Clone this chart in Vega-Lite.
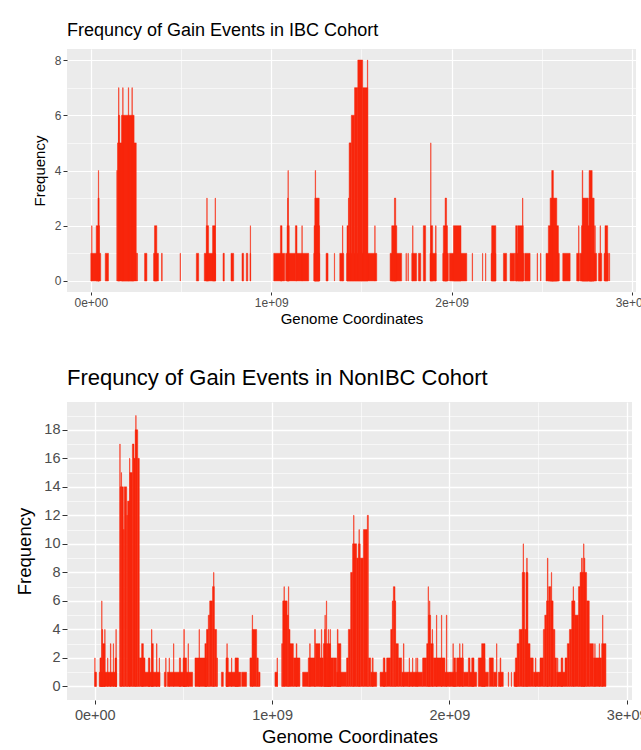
{
  "$schema": "https://vega.github.io/schema/vega-lite/v6.json",
  "background": "white",
  "padding": {"left": 15, "top": 22, "right": 0, "bottom": 0},
  "config": {
    "font": "Liberation Sans",
    "view": {"fill": "#EBEBEB", "stroke": null},
    "axis": {"domain": false, "tickColor": "#333333", "labelColor": "#4D4D4D", "titleColor": "#000000", "titleFontWeight": "normal", "gridColor": "#FFFFFF", "labelFlush": false, "labelOverlap": false, "labelBound": false},
    "title": {"anchor": "start", "fontWeight": "normal", "color": "#000000", "frame": "group"},
    "concat": {"spacing": 41}
  },
  "datasets": {
    "ibc": [
      {"s":0,"e":55,"f":1},{"s":5,"e":6.5,"f":2},{"s":30,"e":48,"f":2},{"s":40,"e":46,"f":3},{"s":42,"e":43.5,"f":4},
      {"s":80,"e":98,"f":1},
      {"s":144,"e":148,"f":4},{"s":148,"e":252,"f":5},{"s":153,"e":160,"f":6},{"s":170,"e":240,"f":6},{"s":154,"e":156,"f":7},{"s":177,"e":179,"f":7},{"s":208,"e":210,"f":7},{"s":228,"e":230,"f":7},{"s":252,"e":259,"f":1},
      {"s":298,"e":311,"f":1},
      {"s":348,"e":375,"f":1},{"s":353,"e":366,"f":2},
      {"s":392,"e":396,"f":1},
      {"s":495,"e":497,"f":1},
      {"s":585,"e":598,"f":1},
      {"s":629,"e":692,"f":1},{"s":640,"e":653,"f":2},{"s":675,"e":690,"f":2},{"s":643,"e":645,"f":3},{"s":689,"e":691,"f":3},
      {"s":733,"e":740,"f":1},
      {"s":777,"e":792,"f":1},
      {"s":838,"e":847,"f":1},
      {"s":862,"e":870,"f":1},{"s":883,"e":886,"f":1},{"s":884,"e":885.5,"f":2},
      {"s":1014,"e":1075,"f":1},{"s":1080,"e":1135,"f":1},{"s":1140,"e":1208,"f":1},{"s":1051,"e":1060,"f":2},{"s":1088,"e":1100,"f":2},{"s":1091,"e":1094,"f":3},{"s":1093,"e":1094.5,"f":4},{"s":1134,"e":1143,"f":2},{"s":1170,"e":1172,"f":2},
      {"s":1236,"e":1269,"f":1},{"s":1238,"e":1268,"f":2},{"s":1242,"e":1266,"f":3},{"s":1244,"e":1246,"f":4},
      {"s":1304,"e":1315,"f":1},
      {"s":1350,"e":1351.5,"f":1},
      {"s":1380,"e":1402,"f":1},{"s":1395,"e":1397,"f":2},
      {"s":1418,"e":1585,"f":1},{"s":1420,"e":1428,"f":2},{"s":1428,"e":1432,"f":3},{"s":1432,"e":1444,"f":5},{"s":1444,"e":1462,"f":6},{"s":1462,"e":1480,"f":7},{"s":1480,"e":1507,"f":8},{"s":1507,"e":1535,"f":7},{"s":1533,"e":1535,"f":8},{"s":1574,"e":1576,"f":2},
      {"s":1659,"e":1723,"f":1},{"s":1668,"e":1696,"f":2},{"s":1683,"e":1690,"f":3},
      {"s":1747,"e":1749,"f":1},{"s":1758,"e":1760,"f":1},
      {"s":1779,"e":1806,"f":1},{"s":1784,"e":1786,"f":2},
      {"s":1816,"e":1829,"f":1},
      {"s":1843,"e":1856,"f":2},
      {"s":1880,"e":1914,"f":1},{"s":1884,"e":1895,"f":2},{"s":1884,"e":1885.5,"f":5},{"s":1911,"e":1914,"f":2},
      {"s":1951,"e":1982,"f":1},{"s":1954,"e":1977,"f":2},{"s":1964,"e":1972,"f":3},
      {"s":1988,"e":2084,"f":1},{"s":2010,"e":2052,"f":2},
      {"s":2114,"e":2116,"f":1},
      {"s":2171,"e":2172.5,"f":1},{"s":2188,"e":2189.5,"f":1},
      {"s":2219,"e":2245,"f":1},{"s":2222,"e":2245,"f":2},
      {"s":2287,"e":2305,"f":1},
      {"s":2324,"e":2350,"f":1},{"s":2353,"e":2400,"f":1},{"s":2405,"e":2435,"f":1},{"s":2355,"e":2365,"f":2},{"s":2368,"e":2397,"f":2},{"s":2393,"e":2395,"f":3},
      {"s":2474,"e":2476,"f":1},{"s":2493,"e":2495,"f":1},
      {"s":2523,"e":2597,"f":1},{"s":2536,"e":2592,"f":2},{"s":2546,"e":2583,"f":3},{"s":2555,"e":2564,"f":4},
      {"s":2616,"e":2657,"f":1},
      {"s":2693,"e":2708,"f":1},{"s":2704,"e":2706,"f":2},
      {"s":2712,"e":2804,"f":1},{"s":2720,"e":2790,"f":2},{"s":2727,"e":2758,"f":3},{"s":2724,"e":2727,"f":4},{"s":2762,"e":2779,"f":4},{"s":2765,"e":2790,"f":3},{"s":2794,"e":2796,"f":2},
      {"s":2814,"e":2832,"f":1},{"s":2823,"e":2825,"f":2},
      {"s":2845,"e":2869,"f":1},{"s":2850,"e":2865,"f":2},
      {"s":2874,"e":2876,"f":1}
    ],
    "nonibc": [
      {"s":0,"e":10,"f":1},{"s":0,"e":1.5,"f":2},
      {"s":25,"e":123,"f":1},{"s":29,"e":39,"f":2},{"s":39,"e":40.5,"f":6},{"s":40,"e":44,"f":4},{"s":44,"e":57,"f":3},{"s":56,"e":58,"f":4},{"s":72,"e":74,"f":2},{"s":88,"e":91,"f":3},{"s":104,"e":106,"f":3},{"s":114,"e":123,"f":2},{"s":119,"e":121,"f":4},
      {"s":141,"e":143,"f":17},{"s":143,"e":149,"f":14},{"s":149,"e":151,"f":15},{"s":151,"e":161,"f":14},{"s":161,"e":166,"f":11},{"s":166,"e":180,"f":14},{"s":180,"e":185,"f":12},{"s":185,"e":198,"f":13},{"s":196,"e":198,"f":16},{"s":198,"e":212,"f":15},{"s":212,"e":221,"f":17},{"s":221,"e":228,"f":16},{"s":228,"e":242,"f":18},{"s":231,"e":233,"f":19},{"s":242,"e":251,"f":16},
      {"s":251,"e":283,"f":2},{"s":264,"e":274,"f":3},
      {"s":283,"e":368,"f":1},{"s":302,"e":311,"f":2},{"s":321,"e":330,"f":3},{"s":320,"e":322,"f":4},{"s":348,"e":351,"f":3},{"s":363,"e":365,"f":2},
      {"s":392,"e":401,"f":1},{"s":400,"e":402,"f":2},{"s":409,"e":552,"f":1},{"s":419,"e":421,"f":2},{"s":444,"e":446,"f":3},{"s":477,"e":484,"f":2},{"s":498,"e":518,"f":2},{"s":502,"e":505,"f":4},{"s":526,"e":528,"f":3},
      {"s":565,"e":630,"f":2},{"s":588,"e":590,"f":4},{"s":621,"e":630,"f":3},{"s":630,"e":640,"f":4},{"s":640,"e":648,"f":5},{"s":648,"e":664,"f":6},{"s":664,"e":674,"f":7},{"s":670,"e":672,"f":8},{"s":674,"e":687,"f":4},{"s":687,"e":692,"f":2},
      {"s":714,"e":725,"f":1},
      {"s":740,"e":819,"f":1},{"s":740,"e":753,"f":2},{"s":745,"e":747,"f":3},{"s":771,"e":773,"f":2},{"s":791,"e":810,"f":2},{"s":819,"e":822,"f":1},
      {"s":828,"e":856,"f":1},
      {"s":875,"e":888,"f":2},{"s":888,"e":913,"f":4},{"s":888,"e":890,"f":5},{"s":913,"e":922,"f":2},{"s":922,"e":932,"f":1},
      {"s":1016,"e":1030,"f":1},{"s":1028,"e":1030,"f":2},
      {"s":1054,"e":1060,"f":3},{"s":1060,"e":1085,"f":6},{"s":1067,"e":1069,"f":7},{"s":1085,"e":1092,"f":5},{"s":1092,"e":1094,"f":7},{"s":1094,"e":1101,"f":4},{"s":1101,"e":1120,"f":3},{"s":1120,"e":1157,"f":2},{"s":1136,"e":1140,"f":3},
      {"s":1172,"e":1204,"f":1},{"s":1204,"e":1242,"f":2},{"s":1212,"e":1215,"f":3},{"s":1240,"e":1244,"f":4},{"s":1244,"e":1270,"f":3},{"s":1270,"e":1289,"f":2},{"s":1278,"e":1280,"f":4},{"s":1289,"e":1308,"f":3},{"s":1296,"e":1300,"f":4},{"s":1298,"e":1300,"f":5},{"s":1306,"e":1308,"f":6},{"s":1308,"e":1345,"f":2},{"s":1310,"e":1330,"f":3},{"s":1317,"e":1319,"f":4},{"s":1327,"e":1329,"f":4},{"s":1345,"e":1364,"f":2},{"s":1364,"e":1420,"f":1},{"s":1368,"e":1372,"f":4},{"s":1372,"e":1388,"f":3},
      {"s":1420,"e":1430,"f":2},{"s":1430,"e":1443,"f":4},{"s":1443,"e":1454,"f":8},{"s":1454,"e":1477,"f":10},{"s":1460,"e":1462,"f":12},{"s":1477,"e":1487,"f":9},{"s":1487,"e":1497,"f":10},{"s":1490,"e":1492,"f":11},{"s":1497,"e":1515,"f":9},{"s":1515,"e":1537,"f":11},{"s":1537,"e":1543,"f":12},{"s":1543,"e":1556,"f":2},{"s":1556,"e":1590,"f":1},{"s":1565,"e":1570,"f":2},
      {"s":1609,"e":1646,"f":1},{"s":1627,"e":1637,"f":2},{"s":1646,"e":1669,"f":2},{"s":1669,"e":1678,"f":4},{"s":1678,"e":1684,"f":6},{"s":1684,"e":1693,"f":7},{"s":1693,"e":1697,"f":6},{"s":1697,"e":1712,"f":3},{"s":1712,"e":1731,"f":2},{"s":1731,"e":1768,"f":1},{"s":1741,"e":1744,"f":3},
      {"s":1768,"e":1849,"f":1},{"s":1773,"e":1775,"f":2},{"s":1792,"e":1794,"f":2},{"s":1811,"e":1813,"f":2},{"s":1820,"e":1822,"f":2},
      {"s":1849,"e":1872,"f":2},{"s":1872,"e":1881,"f":3},{"s":1880,"e":1882,"f":7},{"s":1882,"e":1894,"f":5},{"s":1888,"e":1890,"f":6},{"s":1894,"e":1909,"f":3},{"s":1903,"e":1905,"f":4},{"s":1909,"e":1929,"f":2},{"s":1927,"e":1929,"f":5},{"s":1929,"e":1957,"f":2},{"s":1955,"e":1957,"f":5},{"s":1957,"e":1975,"f":2},{"s":1975,"e":2003,"f":1},{"s":1983,"e":1986,"f":5},
      {"s":2003,"e":2041,"f":1},{"s":2020,"e":2022,"f":3},{"s":2025,"e":2035,"f":2},{"s":2041,"e":2079,"f":2},{"s":2058,"e":2060,"f":3},{"s":2074,"e":2076,"f":3},{"s":2079,"e":2107,"f":1},{"s":2107,"e":2116,"f":2},{"s":2116,"e":2154,"f":1},{"s":2126,"e":2139,"f":2},
      {"s":2163,"e":2201,"f":2},{"s":2182,"e":2201,"f":3},
      {"s":2201,"e":2220,"f":1},{"s":2225,"e":2248,"f":2},{"s":2248,"e":2267,"f":1},{"s":2266,"e":2268,"f":3},{"s":2276,"e":2304,"f":1},{"s":2286,"e":2290,"f":2},
      {"s":2332,"e":2334,"f":1},{"s":2349,"e":2351,"f":1},
      {"s":2364,"e":2382,"f":1},{"s":2372,"e":2382,"f":2},{"s":2382,"e":2394,"f":3},{"s":2394,"e":2411,"f":4},{"s":2411,"e":2425,"f":8},{"s":2416,"e":2418,"f":10},{"s":2425,"e":2432,"f":4},{"s":2432,"e":2443,"f":8},{"s":2436,"e":2439,"f":9},{"s":2443,"e":2455,"f":3},{"s":2455,"e":2473,"f":2},{"s":2473,"e":2502,"f":1},{"s":2485,"e":2488,"f":2},
      {"s":2502,"e":2511,"f":1},{"s":2511,"e":2530,"f":2},{"s":2530,"e":2538,"f":4},{"s":2538,"e":2548,"f":5},{"s":2548,"e":2560,"f":6},{"s":2553,"e":2556,"f":9},{"s":2560,"e":2572,"f":7},{"s":2572,"e":2585,"f":6},{"s":2575,"e":2577,"f":8},{"s":2585,"e":2595,"f":4},{"s":2595,"e":2605,"f":2},{"s":2605,"e":2624,"f":1},{"s":2610,"e":2612,"f":2},
      {"s":2624,"e":2652,"f":1},{"s":2630,"e":2640,"f":2},
      {"s":2652,"e":2665,"f":2},{"s":2665,"e":2677,"f":3},{"s":2677,"e":2690,"f":4},{"s":2690,"e":2708,"f":6},{"s":2698,"e":2700,"f":7},{"s":2708,"e":2728,"f":5},{"s":2728,"e":2737,"f":7},{"s":2737,"e":2755,"f":8},{"s":2745,"e":2750,"f":9},{"s":2755,"e":2774,"f":8},{"s":2757,"e":2759,"f":10},{"s":2760,"e":2764,"f":9},{"s":2774,"e":2789,"f":6},{"s":2789,"e":2812,"f":3},{"s":2812,"e":2859,"f":2},{"s":2820,"e":2822,"f":3},{"s":2845,"e":2847,"f":3},{"s":2859,"e":2883,"f":3},{"s":2864,"e":2866,"f":5}
    ]
  },
  "vconcat": [
    {
      "title": {"text": "Frequncy of Gain Events in IBC Cohort", "fontSize": 18, "offset": 9},
      "width": 569,
      "height": 243,
      "data": {"name": "ibc"},
      "mark": {"type": "rect", "color": "#F8260C", "stroke": "#F8260C", "strokeWidth": 0.5},
      "encoding": {
        "x": {
          "field": "s", "type": "quantitative",
          "scale": {"domain": [-131.9, 3022], "nice": false, "zero": false},
          "axis": {
            "title": "Genome Coordinates", "titleFontSize": 15, "titlePadding": 3,
            "values": [0, 500, 1000, 1500, 2000, 2500, 3000],
            "labelExpr": "datum.value % 1000 != 0 ? '' : (datum.value == 0 ? '0e+00' : format(datum.value / 1000, 'd') + 'e+09')",
            "labelFontSize": 12, "labelPadding": 2, "tickSize": 3,
            "gridWidth": {"condition": {"test": "datum.value % 1000 != 0", "value": 0.6}, "value": 1.2},
            "tickOpacity": {"condition": {"test": "datum.value % 1000 != 0", "value": 0}, "value": 1}
          }
        },
        "x2": {"field": "e"},
        "y": {
          "field": "f", "type": "quantitative",
          "scale": {"domain": [-0.4, 8.4], "nice": false, "zero": false},
          "axis": {
            "title": "Frequency", "titleFontSize": 15, "titlePadding": 7,
            "values": [0, 1, 2, 3, 4, 5, 6, 7, 8],
            "labelExpr": "datum.value % 2 != 0 ? '' : datum.label",
            "labelFontSize": 12, "labelPadding": 2, "tickSize": 4,
            "gridWidth": {"condition": {"test": "datum.value % 2 != 0", "value": 0.6}, "value": 1.2},
            "tickOpacity": {"condition": {"test": "datum.value % 2 != 0", "value": 0}, "value": 1}
          }
        },
        "y2": {"datum": 0}
      }
    },
    {
      "title": {"text": "Frequncy of Gain Events in NonIBC Cohort", "fontSize": 22, "offset": 12},
      "width": 565,
      "height": 298,
      "data": {"name": "nonibc"},
      "mark": {"type": "rect", "color": "#F8260C", "stroke": "#F8260C", "strokeWidth": 0.5},
      "encoding": {
        "x": {
          "field": "s", "type": "quantitative",
          "scale": {"domain": [-156.8, 3030], "nice": false, "zero": false},
          "axis": {
            "title": "Genome Coordinates", "titleFontSize": 18.5, "titlePadding": 6,
            "values": [0, 500, 1000, 1500, 2000, 2500, 3000],
            "labelExpr": "datum.value % 1000 != 0 ? '' : (datum.value == 0 ? '0e+00' : format(datum.value / 1000, 'd') + 'e+09')",
            "labelFontSize": 14.5, "labelPadding": 4, "tickSize": 4,
            "gridWidth": {"condition": {"test": "datum.value % 1000 != 0", "value": 0.6}, "value": 1.3},
            "tickOpacity": {"condition": {"test": "datum.value % 1000 != 0", "value": 0}, "value": 1}
          }
        },
        "x2": {"field": "e"},
        "y": {
          "field": "f", "type": "quantitative",
          "scale": {"domain": [-0.95, 19.95], "nice": false, "zero": false},
          "axis": {
            "title": "Frequency", "titleFontSize": 18.5, "titlePadding": 9,
            "values": [0, 1, 2, 3, 4, 5, 6, 7, 8, 9, 10, 11, 12, 13, 14, 15, 16, 17, 18, 19],
            "labelExpr": "datum.value % 2 != 0 ? '' : datum.label",
            "labelFontSize": 14.5, "labelPadding": 2, "tickSize": 5,
            "gridWidth": {"condition": {"test": "datum.value % 2 != 0", "value": 0.6}, "value": 1.3},
            "tickOpacity": {"condition": {"test": "datum.value % 2 != 0", "value": 0}, "value": 1}
          }
        },
        "y2": {"datum": 0}
      }
    }
  ]
}
